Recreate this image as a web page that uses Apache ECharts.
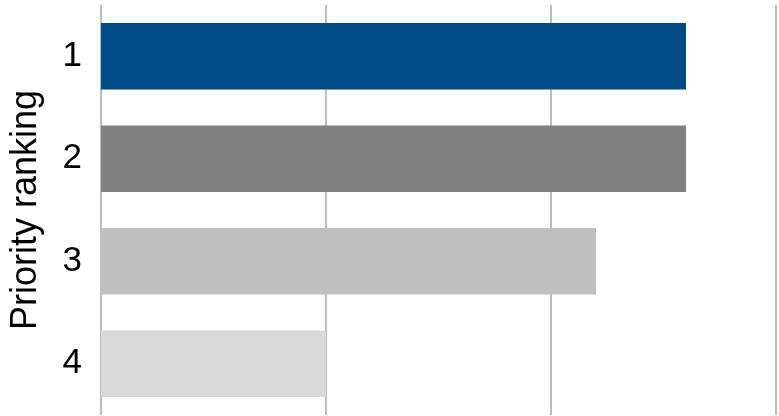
<!DOCTYPE html>
<html lang="en">
<head>
    <meta charset="UTF-8">
    <title>Priority ranking</title>
    <script type="text/javascript" src="https://cdn.jsdelivr.net/npm/echarts@6/dist/echarts.min.js"></script>
</head>
<body style="margin:0;">
    <div id="main" style="width: 779px; height:416px;"></div>
    <script type="text/javascript">
        var rankings = ['1', '2', '3', '4'];
        var counts = [26, 26, 22, 10];
        var barColors = ['#004a85', '#808080', '#bfbfbf', '#d9d9d9'];

        var myChart = echarts.init(document.getElementById('main'));

        var option = {
            animation: false,
            grid: {
                left: 101,
                right: 3,
                top: 5,
                bottom: 1
            },
            xAxis: {
                type: 'value',
                min: 0,
                max: 30,
                interval: 10,
                axisLabel: { show: false },
                axisLine: { show: false },
                axisTick: { show: false },
                splitLine: {
                    show: true,
                    lineStyle: { color: '#a6a6a6', width: 1.5 }
                }
            },
            yAxis: {
                type: 'category',
                inverse: true,
                data: rankings,
                name: 'Priority ranking',
                nameLocation: 'middle',
                nameGap: 57,
                nameTextStyle: {
                    fontFamily: 'Liberation Sans',
                    fontSize: 36,
                    color: '#000'
                },
                axisLine: { show: false },
                axisTick: { show: false },
                axisLabel: {
                    margin: 19,
                    fontFamily: 'Liberation Sans',
                    fontSize: 35,
                    color: '#000'
                }
            },
            series: [{
                type: 'bar',
                barCategoryGap: '35%',
                data: counts.map(function (v, i) {
                    return { value: v, itemStyle: { color: barColors[i] } };
                })
            }]
        };

        myChart.setOption(option);
    </script>
</body>
</html>
